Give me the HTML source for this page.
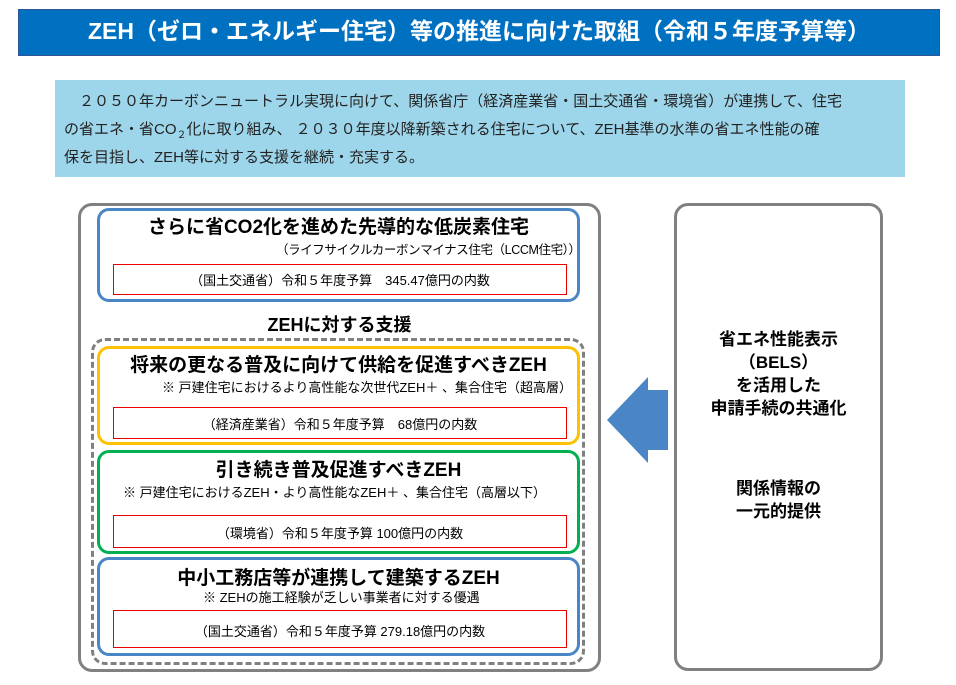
<!DOCTYPE html>
<html><head><meta charset="utf-8"><style>
body{margin:0;width:956px;height:685px;background:#fff;position:relative;overflow:hidden;font-family:"Liberation Sans","Noto Sans CJK JP",sans-serif;color:#000}
.a{position:absolute;box-sizing:border-box}
.t{position:absolute;white-space:nowrap}
.c{text-align:center}
.b{font-weight:bold}
</style></head><body>
<div class="a" style="left:18px;top:9px;width:922px;height:47px;background:#0070c0;border:1px solid #2f5597"></div>
<div class="t c b" style="left:18px;width:922px;top:16px;font-size:23px;color:#fff;line-height:30px">ZEH（ゼロ・エネルギー住宅）等の推進に向けた取組（令和５年度予算等）</div>
<div class="a" style="left:55px;top:80px;width:850px;height:97px;background:#9dd5ea"></div>
<div class="t" style="left:64px;top:88px;font-size:15px;line-height:28px;color:#222">
&#12288;２０５０年カーボンニュートラル実現に向けて、関係省庁（経済産業省・国土交通省・環境省）が連携して、住宅<br>
の省エネ・省CO<sub style="font-size:10px;line-height:0">２</sub>化に取り組み、 ２０３０年度以降新築される住宅について、ZEH基準の水準の省エネ性能の確<br>
保を目指し、ZEH等に対する支援を継続・充実する。</div>

<div class="a" style="left:78px;top:203px;width:523px;height:469px;border:3px solid #808080;border-radius:14px"></div>
<div class="a" style="left:97px;top:208px;width:483px;height:94px;border:3px solid #4a86c5;border-radius:12px"></div>
<div class="t c b" style="left:97px;width:483px;top:212px;font-size:19px">さらに省CO2化を進めた先導的な低炭素住宅</div>
<div class="t" style="left:276px;top:239px;font-size:12.5px;letter-spacing:-0.4px">（ライフサイクルカーボンマイナス住宅（LCCM住宅））</div>
<div class="a" style="left:113px;top:264px;width:454px;height:31px;border:1px solid #e00"></div>
<div class="t c" style="left:113px;width:454px;top:270px;font-size:13px">（国土交通省）令和５年度予算　345.47億円の内数</div>

<div class="t c b" style="left:78px;width:523px;top:311px;font-size:18px">ZEHに対する支援</div>
<div class="a" style="left:91px;top:338px;width:494px;height:327px;border:3px dashed #808080;border-radius:14px"></div>

<div class="a" style="left:97px;top:346px;width:483px;height:99px;border:3px solid #ffc000;border-radius:12px"></div>
<div class="t c b" style="left:97px;width:483px;top:350px;font-size:19px">将来の更なる普及に向けて供給を促進すべきZEH</div>
<div class="t" style="left:162px;top:377px;font-size:13px">※ 戸建住宅におけるより高性能な次世代ZEH＋ 、集合住宅（超高層）</div>
<div class="a" style="left:113px;top:407px;width:454px;height:32px;border:1px solid #e00"></div>
<div class="t c" style="left:113px;width:454px;top:414px;font-size:13px">（経済産業省）令和５年度予算　68億円の内数</div>

<div class="a" style="left:97px;top:450px;width:483px;height:104px;border:3px solid #00b050;border-radius:12px"></div>
<div class="t c b" style="left:97px;width:483px;top:455px;font-size:19px">引き続き普及促進すべきZEH</div>
<div class="t" style="left:123px;top:482px;font-size:13px">※ 戸建住宅におけるZEH・より高性能なZEH＋ 、集合住宅（高層以下）</div>
<div class="a" style="left:113px;top:515px;width:454px;height:33px;border:1px solid #e00"></div>
<div class="t c" style="left:113px;width:454px;top:523px;font-size:13px">（環境省）令和５年度予算  100億円の内数</div>

<div class="a" style="left:97px;top:557px;width:483px;height:99px;border:3px solid #4a86c5;border-radius:12px"></div>
<div class="t c b" style="left:97px;width:483px;top:563px;font-size:19px">中小工務店等が連携して建築するZEH</div>
<div class="t" style="left:203px;top:587px;font-size:13px">※ ZEHの施工経験が乏しい事業者に対する優遇</div>
<div class="a" style="left:113px;top:610px;width:454px;height:38px;border:1px solid #e00"></div>
<div class="t c" style="left:113px;width:454px;top:621px;font-size:13px">（国土交通省）令和５年度予算  279.18億円の内数</div>

<svg class="a" style="left:600px;top:370px" width="75" height="100"><polygon points="7,50 48,7 48,20 68,20 68,80 48,80 48,93" fill="#4a86c5"/></svg>

<div class="a" style="left:674px;top:203px;width:209px;height:468px;border:3px solid #808080;border-radius:14px"></div>
<div class="t c b" style="left:674px;width:209px;top:328px;font-size:17px;line-height:23px">省エネ性能表示<br>（BELS）<br>を活用した<br>申請手続の共通化</div>
<div class="t c b" style="left:674px;width:209px;top:477px;font-size:17px;line-height:23px">関係情報の<br>一元的提供</div>
</body></html>
